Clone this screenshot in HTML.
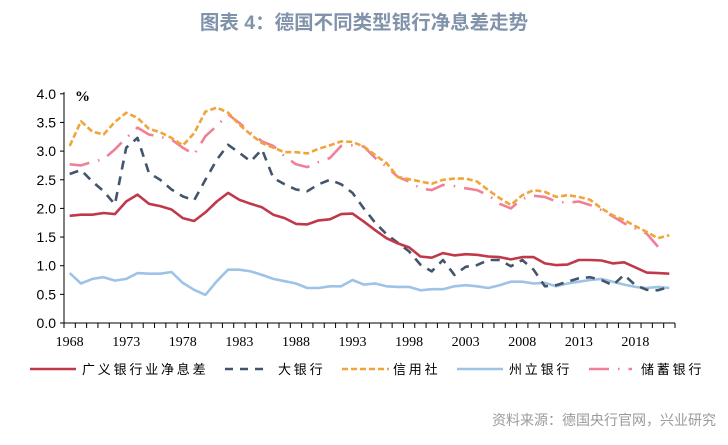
<!DOCTYPE html>
<html><head><meta charset="utf-8">
<style>
body{margin:0;background:#fff;width:728px;height:440px;overflow:hidden;font-family:"Liberation Sans","Noto Sans CJK SC",sans-serif;}
</style></head><body>
<svg id="s" width="728" height="440" xmlns="http://www.w3.org/2000/svg">
<text x="364" y="29" text-anchor="middle" font-size="19.5" font-weight="bold" fill="#8093ab" font-family="Liberation Sans, Noto Sans CJK SC, sans-serif">图表 4：德国不同类型银行净息差走势</text>
<text x="75" y="101" font-size="15" font-weight="bold" font-family="Liberation Serif, serif" fill="#000">%</text>
<g id="axes"></g>
<g id="series" fill="none" stroke-width="2.6" stroke-linejoin="round"></g>
<g font-size="13" letter-spacing="2.8" font-family="Liberation Sans, Noto Sans CJK SC, sans-serif" fill="#000">
<line x1="30" y1="369" x2="76" y2="369" stroke="#c0394b" stroke-width="2.6"/>
<text x="82" y="374">广义银行业净息差</text>
<line x1="225" y1="369" x2="270" y2="369" stroke="#44546a" stroke-width="2.6" stroke-dasharray="8,7"/>
<text x="278" y="374">大银行</text>
<line x1="342" y1="369" x2="389" y2="369" stroke="#f0a43a" stroke-width="2.6" stroke-dasharray="6,3"/>
<text x="393" y="374">信用社</text>
<line x1="457" y1="369" x2="503" y2="369" stroke="#9dc3e6" stroke-width="2.6"/>
<text x="509" y="374">州立银行</text>
<line x1="589" y1="369" x2="632" y2="369" stroke="#f08098" stroke-width="2.6" stroke-dasharray="20,9,1.5,9"/>
<text x="641" y="374">储蓄银行</text>
</g>
<text x="716" y="425" text-anchor="end" font-size="14" fill="#9a9a9a" font-family="Liberation Sans, Noto Sans CJK SC, sans-serif">资料来源：德国央行官网，兴业研究</text>
</svg>
<script>
var NS="http://www.w3.org/2000/svg";
function el(t,a,p){var e=document.createElementNS(NS,t);for(var k in a)e.setAttribute(k,a[k]);p.appendChild(e);return e;}
var ax=document.getElementById("axes"),sg=document.getElementById("series");
var X0=64,X1=675,Y0=323,U=57.3,W=(X1-X0)/54;
function px(i){return X0+W*(i+0.5);}function py(v){return Y0-v*U;}
el("line",{x1:X0,y1:Y0-231,x2:X0,y2:Y0,stroke:"#000","stroke-width":1},ax);
el("line",{x1:X0,y1:Y0,x2:X1,y2:Y0,stroke:"#000","stroke-width":1},ax);
for(var k=0;k<=8;k++){var y=py(k*0.5);el("line",{x1:X0-4,y1:y,x2:X0,y2:y,stroke:"#000"},ax);
var t=el("text",{x:X0-8,y:y+5,"text-anchor":"end","font-size":"14","font-family":"Liberation Sans, sans-serif"},ax);t.textContent=(k*0.5).toFixed(1);}
for(var i=0;i<=54;i++){var x=X0+W*i;el("line",{x1:x,y1:Y0,x2:x,y2:Y0+5,stroke:"#000"},ax);}
for(var yr=1968;yr<=2018;yr+=5){var t=el("text",{x:px(yr-1968),y:Y0+23,"text-anchor":"middle","font-size":"14","font-family":"Liberation Serif, serif"},ax);t.textContent=yr;}
var S=[
["#9dc3e6","",[0.87,0.69,0.77,0.80,0.74,0.77,0.87,0.86,0.86,0.89,0.70,0.58,0.49,0.73,0.93,0.93,0.90,0.84,0.77,0.73,0.69,0.61,0.61,0.64,0.64,0.75,0.67,0.69,0.64,0.63,0.63,0.57,0.59,0.59,0.64,0.66,0.64,0.61,0.66,0.72,0.72,0.69,0.70,0.64,0.69,0.72,0.75,0.77,0.72,0.67,0.63,0.61,0.63,0.61]],
["#f08098","20,9,1.5,9",[2.77,2.75,2.81,2.86,3.03,3.23,3.41,3.29,3.25,3.20,3.06,2.94,3.26,3.44,3.64,3.49,3.32,3.17,3.09,2.91,2.77,2.72,2.81,2.88,3.09,3.10,3.08,2.88,2.73,2.55,2.47,2.35,2.32,2.41,2.39,2.35,2.32,2.23,2.08,2.00,2.17,2.22,2.20,2.12,2.10,2.12,2.06,1.97,1.86,1.74,1.65,1.56,1.33]],
["#f0a43a","6,3",[3.09,3.52,3.34,3.29,3.51,3.67,3.58,3.39,3.33,3.23,3.10,3.31,3.69,3.76,3.67,3.46,3.29,3.14,3.06,2.98,2.98,2.96,3.04,3.10,3.17,3.16,3.08,2.93,2.79,2.55,2.51,2.47,2.43,2.50,2.52,2.52,2.47,2.32,2.18,2.06,2.23,2.32,2.29,2.20,2.23,2.20,2.15,2.00,1.88,1.80,1.69,1.59,1.48,1.53]],
["#44546a","9,7",[2.60,2.67,2.47,2.30,2.07,3.06,3.23,2.62,2.50,2.33,2.21,2.14,2.50,2.85,3.11,2.97,2.82,3.03,2.53,2.42,2.33,2.30,2.42,2.50,2.42,2.27,2.00,1.75,1.55,1.40,1.25,1.02,0.90,1.10,0.84,0.98,1.01,1.10,1.10,0.99,1.10,0.93,0.64,0.66,0.72,0.78,0.80,0.75,0.66,0.84,0.66,0.58,0.57,0.63]],
["#c0394b","",[1.87,1.89,1.89,1.92,1.90,2.12,2.24,2.08,2.04,1.98,1.83,1.78,1.93,2.12,2.27,2.15,2.08,2.02,1.89,1.83,1.73,1.72,1.79,1.81,1.90,1.91,1.77,1.62,1.48,1.39,1.32,1.16,1.14,1.22,1.18,1.20,1.19,1.16,1.15,1.11,1.15,1.15,1.04,1.01,1.02,1.10,1.10,1.09,1.04,1.06,0.97,0.88,0.87,0.86]]
];
S.forEach(function(s){var d=s[2].map(function(v,i){return px(i).toFixed(1)+","+py(v).toFixed(1);}).join(" ");
var a={points:d,stroke:s[0]};if(s[1])a["stroke-dasharray"]=s[1];el("polyline",a,sg);});
</script>
</body></html>
